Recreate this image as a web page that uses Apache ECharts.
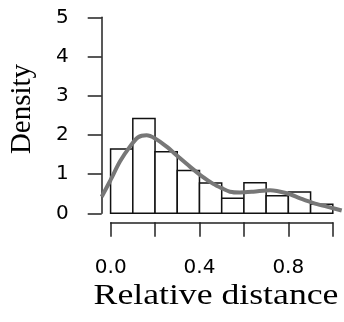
<!DOCTYPE html>
<html><head><meta charset="utf-8">
<script src="https://cdn.jsdelivr.net/npm/echarts@6/dist/echarts.min.js"></script>
<style>html,body{margin:0;padding:0;background:#fff}#c{width:344px;height:322px}</style>
</head><body><div id="c"></div>
<script>
// Histogram bins (left edges) and densities
var binStarts = [0.0,0.1,0.2,0.3,0.4,0.5,0.6,0.7,0.8,0.9];
var binWidth = 0.1;
var densities = [1.64,2.42,1.57,1.09,0.77,0.38,0.78,0.45,0.54,0.23];
// Density curve
var curveX = [-0.04,0.0,0.042,0.087,0.124,0.162,0.2,0.252,0.305,0.357,0.41,0.462,0.50,0.537,0.582,0.642,0.718,0.793,0.853,0.913,0.973,1.04];
var curveY = [0.42,0.85,1.32,1.70,1.94,1.99,1.91,1.70,1.44,1.19,0.95,0.75,0.64,0.55,0.53,0.55,0.59,0.51,0.38,0.26,0.17,0.07];
var yTicks = [0,1,2,3,4,5];
var xTickLabels = ['0.0','0.4','0.8'];
var xTitle = 'Relative distance';
var yTitle = 'Density';

var chart = echarts.init(document.getElementById('c'));
var axisColor = '#222';
var tickFont = {fontFamily:'DejaVu Sans', fontSize:20, color:'#000'};
var hist = binStarts.map(function(s,i){return [s, s+binWidth, densities[i]];});
var curve = curveX.map(function(x,i){return [x, curveY[i]];});

chart.setOption({
  animation:false,
  grid:[
    {left:101.7, right:2.3, top:9.5, bottom:100.9},
    {left:101.7, width:1, top:17.3, bottom:108.7},
    {left:110.7, right:11.3, height:1, bottom:99.7}
  ],
  xAxis:[
    {gridIndex:0, type:'value', min:-0.04, max:1.04, show:false},
    {gridIndex:1, type:'value', min:0, max:1, show:false},
    {gridIndex:2, type:'value', min:0, max:1, interval:0.2, position:'bottom',
     axisLine:{show:true, lineStyle:{color:axisColor, width:1.5}},
     axisTick:{show:true, length:14.4, lineStyle:{color:axisColor, width:1.5}},
     splitLine:{show:false},
     axisLabel:Object.assign({margin:35, formatter:function(v){
        var s = v.toFixed(1); return xTickLabels.indexOf(s)>=0 ? s : '';}}, tickFont)}
  ],
  yAxis:[
    {gridIndex:0, type:'value', min:-0.2, max:5.2, show:false},
    {gridIndex:1, type:'value', min:yTicks[0], max:yTicks[yTicks.length-1], interval:1,
     axisLine:{show:true, lineStyle:{color:axisColor, width:1.5}},
     axisTick:{show:true, length:14, lineStyle:{color:axisColor, width:1.5}},
     splitLine:{show:false},
     axisLabel:Object.assign({margin:33, padding:[4,0,0,0]}, tickFont)},
    {gridIndex:2, type:'value', show:false}
  ],
  series:[
    {type:'custom', xAxisIndex:0, yAxisIndex:0, data:hist, renderItem:function(params, api){
      var p0 = api.coord([api.value(0), api.value(2)]);
      var p1 = api.coord([api.value(1), 0]);
      return {type:'rect', shape:{x:p0[0], y:p0[1], width:p1[0]-p0[0], height:p1[1]-p0[1]},
        style:{fill:'#fff', stroke:'#111', lineWidth:1.5}};
    }},
    {type:'line', xAxisIndex:0, yAxisIndex:0, data:curve, smooth:0.3, showSymbol:false,
     lineStyle:{color:'#777', width:4}}
  ],
  graphic:[
    {type:'text', x:216, y:296, scaleX:1.19, style:{text:xTitle, font:'30px "Liberation Serif"', fill:'#000', textAlign:'center', textVerticalAlign:'middle'}},
    {type:'text', x:22, y:109, rotation:Math.PI/2, style:{text:yTitle, font:'29px "Liberation Serif"', fill:'#000', textAlign:'center', textVerticalAlign:'middle'}}
  ]
});
</script></body></html>
